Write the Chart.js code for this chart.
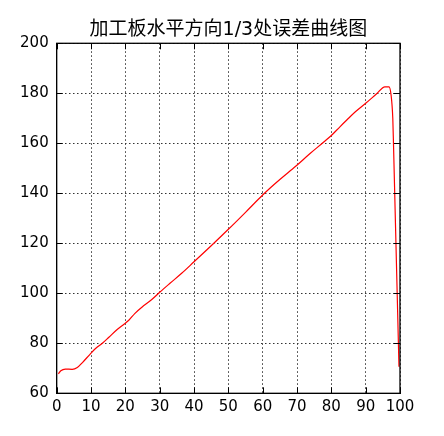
<!DOCTYPE html>
<html>
<head>
<meta charset="utf-8">
<script src="https://cdn.jsdelivr.net/npm/chart.js@4/dist/chart.umd.min.js"></script>
<style>
html,body{margin:0;padding:0;background:#fff;}
#wrap{width:444px;height:436px;position:relative;}
</style>
</head>
<body>
<div id="wrap"><canvas id="c" width="444" height="436"></canvas></div>
<script>
const titleText = "加工板水平方向1/3处误差曲线图";
const xValues = [0.5, 1.2, 2.5, 4.5, 6, 7.5, 9.7, 11.4, 13.3, 15.2, 17.7, 19.7, 21, 22.8, 25.2, 27.7, 30, 33, 36.4, 40, 45, 50, 55, 60, 62.1, 65, 69.7, 73.8, 77.7, 80, 82.5, 84.5, 87, 90, 93.2, 95.6, 96.8, 97.4, 97.9, 98.1, 99.7];
const errorValues = [67.8, 69.0, 69.7, 69.6, 70.3, 72.3, 75.6, 78.0, 80.0, 82.4, 85.6, 87.7, 89.2, 92.0, 94.9, 97.5, 100.4, 104.0, 108.0, 112.6, 119.0, 125.6, 132.4, 139.3, 142.0, 145.5, 150.9, 155.9, 160.4, 163.1, 166.6, 169.3, 172.6, 176.0, 179.8, 182.6, 182.6, 179.3, 170.0, 160.0, 70.6];
const xTicks = [0, 10, 20, 30, 40, 50, 60, 70, 80, 90, 100];
const yTicks = [60, 80, 100, 120, 140, 160, 180, 200];

const points = xValues.map((x, i) => ({x: x, y: errorValues[i]}));

const framePlugin = {
  id: 'frame',
  afterDraw(chart) {
    const {ctx, chartArea: a, scales} = chart;
    ctx.save();
    ctx.strokeStyle = '#000';
    ctx.lineWidth = 1;
    ctx.setLineDash([]);
    const L = 6;
    ctx.beginPath();
    xTicks.forEach(v => {
      const px = Math.round(scales.x.getPixelForValue(v)) + 0.5;
      ctx.moveTo(px, a.bottom); ctx.lineTo(px, a.bottom - L);
      ctx.moveTo(px, a.top); ctx.lineTo(px, a.top + L);
    });
    yTicks.forEach(v => {
      const py = Math.round(scales.y.getPixelForValue(v)) + 0.5;
      ctx.moveTo(a.left, py); ctx.lineTo(a.left + L, py);
      ctx.moveTo(a.right, py); ctx.lineTo(a.right - L, py);
    });
    ctx.stroke();
    ctx.lineWidth = 1.3;
    ctx.strokeRect(a.left, a.top, a.right - a.left, a.bottom - a.top);
    ctx.fillStyle = '#000';
    ctx.font = "19px 'DejaVu Sans', 'Noto Sans CJK SC'";
    ctx.textAlign = 'center';
    ctx.textBaseline = 'middle';
    ctx.fillText(titleText, (a.left + a.right) / 2, 30.5);
    ctx.restore();
  }
};

new Chart(document.getElementById('c'), {
  type: 'line',
  data: {
    datasets: [{
      data: points,
      borderColor: '#ff0000',
      borderWidth: 1.2,
      pointRadius: 0,
      fill: false,
      cubicInterpolationMode: 'monotone'
    }]
  },
  options: {
    responsive: false,
    animation: false,
    devicePixelRatio: 1,
    layout: {padding: {left: 0, right: 44, top: 43.3, bottom: 0}},
    plugins: {
      legend: {display: false},
      tooltip: {enabled: false},
      title: {display: false}
    },
    scales: {
      x: {
        type: 'linear',
        min: 0, max: 100,
        afterBuildTicks: s => { s.ticks = xTicks.map(v => ({value: v})); },
        afterFit: s => { s.height = 42.7; },
        ticks: {color: '#000', font: {family: "'DejaVu Sans'", size: 15}, padding: 5, maxRotation: 0},
        grid: {color: '#333', lineWidth: 1, drawTicks: false},
        border: {display: true, color: '#000', dash: [1.5, 2.5]}
      },
      y: {
        type: 'linear',
        min: 60, max: 200,
        afterBuildTicks: s => { s.ticks = yTicks.map(v => ({value: v})); },
        afterFit: s => { s.width = 56.7; },
        ticks: {color: '#000', font: {family: "'DejaVu Sans'", size: 15}, padding: 8},
        grid: {color: '#333', lineWidth: 1, drawTicks: false},
        border: {display: true, color: '#000', dash: [1.5, 2.5]}
      }
    }
  },
  plugins: [framePlugin]
});
</script>
</body>
</html>
